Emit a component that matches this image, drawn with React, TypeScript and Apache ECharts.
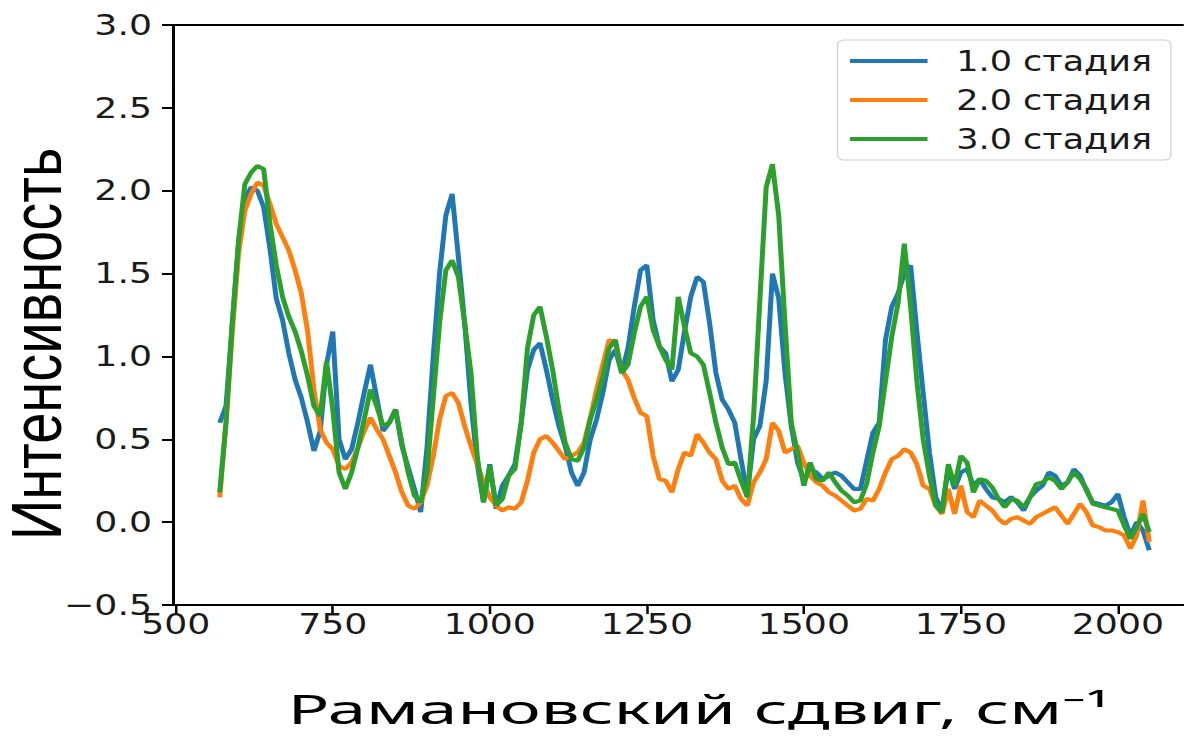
import React, { useEffect, useRef } from "react";
import * as echarts from "echarts";

// Raman shift grid, cm^-1
const shift: number[] = [
  570, 580, 590, 600, 610, 620, 630, 640, 650, 660,
  670, 680, 690, 700, 710, 720, 730, 740, 750, 760,
  770, 780, 790, 800, 810, 820, 830, 840, 850, 860,
  870, 880, 890, 900, 910, 920, 930, 940, 950, 960,
  970, 980, 990, 1000, 1010, 1020, 1030, 1040, 1050, 1060,
  1070, 1080, 1090, 1100, 1110, 1120, 1130, 1140, 1150, 1160,
  1170, 1180, 1190, 1200, 1210, 1220, 1230, 1240, 1250, 1260,
  1270, 1280, 1290, 1300, 1310, 1320, 1330, 1340, 1350, 1360,
  1370, 1380, 1390, 1400, 1410, 1420, 1430, 1440, 1450, 1460,
  1470, 1480, 1490, 1500, 1510, 1520, 1530, 1540, 1550, 1560,
  1570, 1580, 1590, 1600, 1610, 1620, 1630, 1640, 1650, 1660,
  1670, 1680, 1690, 1700, 1710, 1720, 1730, 1740, 1750, 1760,
  1770, 1780, 1790, 1800, 1810, 1820, 1830, 1840, 1850, 1860,
  1870, 1880, 1890, 1900, 1910, 1920, 1930, 1940, 1950, 1960,
  1970, 1980, 1990, 2000, 2010, 2020, 2030, 2040, 2050,
];

const stage1: number[] = [
  0.6, 0.7, 1.2, 1.68, 1.95, 2.02, 2.0, 1.9, 1.65, 1.35,
  1.22, 1.02, 0.86, 0.75, 0.6, 0.43, 0.55, 0.95, 1.15, 0.5,
  0.38, 0.44, 0.6, 0.78, 0.95, 0.75, 0.55, 0.6, 0.68, 0.46,
  0.33, 0.2, 0.06, 0.45, 1.0, 1.5, 1.85, 1.98, 1.6, 1.2,
  0.72, 0.35, 0.12, 0.35, 0.08, 0.22, 0.28, 0.35, 0.6, 0.92,
  1.04, 1.08, 0.92, 0.74, 0.58, 0.46, 0.3, 0.22, 0.3, 0.5,
  0.62, 0.78, 0.98, 1.04, 0.9, 1.05, 1.3, 1.52, 1.55, 1.22,
  1.06, 1.02, 0.85, 0.92, 1.15, 1.36, 1.48, 1.45, 1.2, 0.9,
  0.74, 0.68, 0.6, 0.38, 0.17, 0.5, 0.58, 0.85, 1.5, 1.35,
  0.9, 0.58, 0.36, 0.25, 0.32, 0.3, 0.26, 0.28, 0.3, 0.28,
  0.24, 0.2, 0.2, 0.37, 0.54, 0.6, 1.1, 1.3, 1.38, 1.5,
  1.55, 1.15, 0.78, 0.42, 0.15, 0.07, 0.33, 0.2, 0.3, 0.32,
  0.22, 0.26, 0.2, 0.15, 0.14, 0.12, 0.15, 0.12, 0.07, 0.15,
  0.19, 0.22, 0.3, 0.28, 0.22, 0.24, 0.32, 0.28, 0.19, 0.12,
  0.11, 0.1, 0.12, 0.17, 0.03, -0.08, 0.0, -0.05, -0.17,
];

const stage2: number[] = [
  0.15, 0.6, 1.15, 1.62, 1.88, 1.98, 2.05, 2.03, 1.92, 1.8,
  1.72, 1.64, 1.52, 1.38, 1.15, 0.8, 0.56, 0.48, 0.44, 0.34,
  0.32, 0.36, 0.45, 0.55, 0.63, 0.56, 0.5, 0.4, 0.3, 0.18,
  0.1, 0.08, 0.12, 0.22, 0.4, 0.62, 0.76, 0.78, 0.72, 0.58,
  0.46, 0.35, 0.24, 0.15, 0.1, 0.07, 0.09, 0.08, 0.12, 0.25,
  0.42, 0.5, 0.52, 0.48, 0.43, 0.38, 0.4, 0.42, 0.48, 0.63,
  0.8, 0.95, 1.1, 1.08, 0.92, 0.86, 0.75, 0.66, 0.64, 0.4,
  0.26, 0.25, 0.18, 0.32, 0.42, 0.4, 0.53, 0.48, 0.42, 0.38,
  0.25, 0.2, 0.22, 0.14, 0.1, 0.24, 0.3, 0.38, 0.6, 0.55,
  0.42, 0.44, 0.46, 0.36, 0.28, 0.24, 0.22, 0.18, 0.16, 0.13,
  0.1, 0.07, 0.08, 0.14, 0.13, 0.2, 0.3, 0.38, 0.4, 0.44,
  0.42, 0.35, 0.22, 0.2, 0.1, 0.05, 0.2, 0.05, 0.22, 0.06,
  0.03, 0.13, 0.1, 0.07, 0.02, -0.01, 0.02, 0.03, 0.01, -0.01,
  0.03, 0.05, 0.07, 0.09, 0.04, -0.01, 0.05, 0.11, 0.06, -0.02,
  -0.03, -0.05, -0.05, -0.06, -0.08, -0.16, -0.08, 0.13, -0.12,
];

const stage3: number[] = [
  0.18, 0.6, 1.2, 1.7, 2.04, 2.11, 2.15, 2.13, 1.8, 1.55,
  1.36, 1.24, 1.15, 1.03, 0.88, 0.7, 0.64, 0.97, 0.68, 0.3,
  0.2, 0.3, 0.45, 0.62, 0.8, 0.7, 0.58, 0.6, 0.68, 0.48,
  0.3, 0.16, 0.12, 0.3, 0.75, 1.2, 1.52, 1.58, 1.48, 1.2,
  0.9, 0.4, 0.12, 0.34, 0.1, 0.14, 0.28, 0.32, 0.6, 1.05,
  1.25, 1.3, 1.12, 0.92, 0.68, 0.48, 0.38, 0.37, 0.45, 0.62,
  0.74, 0.88, 1.05, 1.1, 0.9, 0.95, 1.14, 1.3, 1.36, 1.16,
  1.06, 0.98, 0.92, 1.36, 1.18, 1.02, 1.0, 0.95, 0.78, 0.6,
  0.45, 0.35, 0.36, 0.25, 0.15, 0.64, 1.34, 2.02, 2.16, 1.85,
  1.2, 0.6, 0.42, 0.22, 0.36, 0.26, 0.25, 0.3, 0.24, 0.19,
  0.16, 0.12, 0.13, 0.23, 0.42, 0.58, 0.85, 1.12, 1.32, 1.68,
  1.3, 0.85, 0.5, 0.28, 0.1, 0.06, 0.35, 0.22, 0.4, 0.36,
  0.18, 0.26, 0.25, 0.21, 0.14, 0.09, 0.14, 0.13, 0.09, 0.15,
  0.23, 0.24, 0.27, 0.25, 0.2, 0.24, 0.3, 0.26, 0.2, 0.11,
  0.1, 0.09, 0.08, 0.07, -0.02, -0.1, -0.03, 0.05, -0.06,
];

const seriesNames: string[] = ["1.0 стадия", "2.0 стадия", "3.0 стадия"];
const xTicks: number[] = [500, 750, 1000, 1250, 1500, 1750, 2000];
const xTitle = "Рамановский сдвиг, см⁻¹";
const yTitle = "Интенсивность";

const COLORS = ["#1f77b4", "#ff7f0e", "#2ca02c"];
const STRETCH = 1.25;
const W = 1184 / STRETCH;
const H = 740;

export default function App() {
  const ref = useRef<HTMLDivElement>(null);
  useEffect(() => {
    if (!ref.current) return;
    const chart = echarts.init(ref.current, undefined, { renderer: "svg" });
    const values = [stage1, stage2, stage3];
    const tickFont = { fontFamily: "DejaVu Sans", fontSize: 29, color: "#1a1a1a" };
    chart.setOption({
      animation: false,
      backgroundColor: "#ffffff",
      grid: {
        left: 138.6,
        top: 25,
        width: 817,
        height: 580,
        show: true,
        containLabel: false,
        outerBoundsMode: "none",
        borderColor: "#000",
        borderWidth: 2,
        backgroundColor: "transparent",
      },
      xAxis: {
        type: "value",
        min: 496,
        max: 2122,
        axisLine: { show: true, onZero: false, lineStyle: { color: "#000", width: 2 } },
        axisTick: { show: true, length: 9, customValues: xTicks, lineStyle: { color: "#000", width: 2 } },
        axisLabel: { ...tickFont, margin: 5, customValues: xTicks, formatter: (v: number) => String(v) },
        splitLine: { show: false },
      },
      yAxis: {
        type: "value",
        min: -0.5,
        max: 3.0,
        interval: 0.5,
        axisLine: { show: true, onZero: false, lineStyle: { color: "#000", width: 2 } },
        axisTick: { show: true, length: 9, lineStyle: { color: "#000", width: 2 } },
        axisLabel: {
          ...tickFont,
          margin: 17,
          formatter: (v: number) => (v < 0 ? "\u2212" + Math.abs(v).toFixed(1) : v.toFixed(1)),
        },
        splitLine: { show: false },
        name: yTitle,
        nameLocation: "middle",
        nameRotate: 90,
        nameGap: 86,
        nameMoveOverlap: false,
        nameTextStyle: {
          fontFamily: "Liberation Sans, Arial, sans-serif",
          fontSize: 56,
          lineHeight: 46,
          color: "#000",
          padding: [0, 58, 0, 0],
        },
      },
      graphic: [
        {
          type: "text",
          x: 559,
          y: 709,
          scaleX: 1.38,
          style: {
            text: xTitle,
            fontFamily: "Noto Sans, Open Sans, sans-serif",
            fontSize: 40,
            fill: "#000",
            align: "center",
            verticalAlign: "middle",
          },
        },
      ],
      legend: {
        orient: "vertical",
        left: 670,
        top: 40,
        icon: "rect",
        itemWidth: 62,
        itemHeight: 4,
        itemGap: 11,
        padding: [7, 15, 7, 10],
        backgroundColor: "rgba(255,255,255,0.85)",
        borderColor: "#d0d0d0",
        borderWidth: 1,
        borderRadius: 5,
        textStyle: { fontFamily: "DejaVu Sans", fontSize: 28, color: "#1a1a1a", padding: [0, 0, 0, 18] },
        data: seriesNames,
      },
      series: seriesNames.map((name, k) => ({
        name,
        type: "line",
        symbol: "none",
        showSymbol: false,
        smooth: false,
        color: COLORS[k],
        lineStyle: { color: COLORS[k], width: 4 },
        data: shift.map((x, i) => [x, values[k][i]]),
        z: 2 + k,
      })),
    });
    return () => chart.dispose();
  }, []);
  return (
    <div
      style={{
        position: "absolute",
        left: 0,
        top: 0,
        width: 1184,
        height: H,
        overflow: "hidden",
        background: "#fff",
      }}
    >
      <div
        ref={ref}
        style={{
          width: W,
          height: H,
          transform: `scaleX(${STRETCH})`,
          transformOrigin: "0 0",
        }}
      />
    </div>
  );
}
